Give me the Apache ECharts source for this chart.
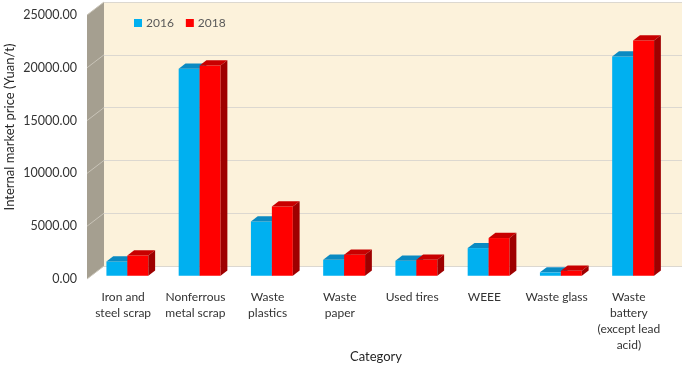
<!DOCTYPE html>
<html>
<head>
<meta charset="utf-8">
<script src="https://cdn.jsdelivr.net/npm/echarts@6/dist/echarts.min.js"></script>
<style>
  html, body { margin: 0; padding: 0; background: #fff; }
  #chart { width: 685px; height: 369px; }
</style>
</head>
<body>
<div id="chart"></div>
<script>
// data
const categories = ['Iron and steel scrap', 'Nonferrous metal scrap', 'Waste plastics', 'Waste paper',
  'Used tires', 'WEEE', 'Waste glass', 'Waste battery (except lead acid)'];
const categoryLabels = ['Iron and\nsteel scrap', 'Nonferrous\nmetal scrap', 'Waste\nplastics', 'Waste\npaper',
  'Used tires', 'WEEE', 'Waste glass', 'Waste\nbattery\n(except lead\nacid)'];
const years = ['2016', '2018'];
const price2016 = [1350, 19600, 5140, 1510, 1420, 2620, 320, 20770];
const price2018 = [1920, 19910, 6560, 1990, 1510, 3570, 470, 22280];
const yMax = 25000;
const yStep = 5000;

// fake 3d: the back wall sits up and to the right of the front plane
const DX = 17, DY = 13;
const FRONT = 0.25, DEPTH = 0.4;  // bar front face / depth as fraction of the wall depth
const BAR_W = 0.29;                // share of a category band per bar

const faces = [
  { front: '#00B0F0', top: '#0A8AC2', side: '#0078AA' },
  { front: '#FF0000', top: '#C80000', side: '#9E0000' }
];

function bar3d(idx) {
  return function (params, api) {
    const c = api.value(0), v = api.value(1);
    const base = api.coord([c, 0]);
    const top = api.coord([c, v]);
    const w = api.size([1, 0])[0] * BAR_W;
    const x0 = base[0] + (idx === 0 ? -w : 0) + DX * FRONT;
    const yb = base[1] - DY * FRONT;
    const yt = top[1] - DY * FRONT;
    const ddx = DX * DEPTH, ddy = DY * DEPTH;
    const f = faces[idx];
    return {
      type: 'group',
      children: [
        { type: 'rect', shape: { x: x0, y: yt, width: w, height: yb - yt }, style: { fill: f.front } },
        { type: 'polygon', shape: { points: [[x0, yt], [x0 + w, yt], [x0 + w + ddx, yt - ddy], [x0 + ddx, yt - ddy]] }, style: { fill: f.top } },
        { type: 'polygon', shape: { points: [[x0 + w, yt], [x0 + w + ddx, yt - ddy], [x0 + w + ddx, yb - ddy], [x0 + w, yb]] }, style: { fill: f.side } }
      ]
    };
  };
}

const chart = echarts.init(document.getElementById('chart'));
const font = 'Lato, "Open Sans", sans-serif';

const option = {
  animation: false,
  textStyle: { fontFamily: font },
  legend: {
    data: years,
    left: 134, top: 17, padding: 0,
    icon: 'rect', itemWidth: 8, itemHeight: 8, itemGap: 12,
    textStyle: { color: '#595959', fontSize: 12, fontFamily: font, padding: [0, 0, 0, -1] }
  },
  grid: [
    { left: 87, right: 20, top: 15, bottom: 90, outerBoundsMode: 'none' },
    { left: 87 + DX, right: 20 - DX, top: 15 - DY, bottom: 90 + DY, show: true,
      backgroundColor: '#FCF2DB', borderWidth: 0, outerBoundsMode: 'none' }
  ],
  xAxis: [
    {
      type: 'category', data: categories, gridIndex: 0,
      axisLine: { show: false }, axisTick: { show: false },
      axisLabel: {
        interval: 0, margin: 10, color: '#333333', fontSize: 12, lineHeight: 16, fontFamily: font,
        formatter: (v, i) => categoryLabels[i]
      },
      name: 'Category', nameLocation: 'middle', nameGap: 71, nameMoveOverlap: false,
      nameTextStyle: { color: '#262626', fontSize: 13, fontFamily: font }
    },
    { type: 'category', data: categories, gridIndex: 1, show: false }
  ],
  yAxis: [
    {
      type: 'value', gridIndex: 0, min: 0, max: yMax, interval: yStep,
      axisLine: { show: false }, axisTick: { show: false }, splitLine: { show: false },
      axisLabel: { margin: 10, color: '#333333', fontSize: 12.5, fontFamily: font, formatter: v => v.toFixed(2) },
      name: 'Internal market price (Yuan/t)', nameLocation: 'middle', nameGap: 71, nameRotate: 90,
      nameMoveOverlap: false,
      nameTextStyle: { color: '#262626', fontSize: 13, fontFamily: font, padding: [0, 0, 0, 40] }
    },
    {
      type: 'value', gridIndex: 1, min: 0, max: yMax, interval: yStep,
      axisLine: { show: false }, axisTick: { show: false }, axisLabel: { show: false },
      splitLine: { show: true, lineStyle: { color: '#DCD8D0', width: 1 } }
    }
  ],
  series: [
    {
      name: years[0], type: 'custom', xAxisIndex: 0, yAxisIndex: 0,
      itemStyle: { color: faces[0].front },
      renderItem: bar3d(0),
      data: price2016.map((v, i) => [i, v]),
      z: 5
    },
    {
      name: years[1], type: 'custom', xAxisIndex: 0, yAxisIndex: 0,
      itemStyle: { color: faces[1].front },
      renderItem: bar3d(1),
      data: price2018.map((v, i) => [i, v]),
      z: 5
    }
  ]
};
chart.setOption(option);

// left side wall, with the grid lines carried across it
const y0 = chart.convertToPixel({ yAxisIndex: 0 }, 0);
const yTop = chart.convertToPixel({ yAxisIndex: 0 }, yMax);
const xl = 87;
const wallLines = [];
for (let v = 0; v <= yMax; v += yStep) {
  const y = chart.convertToPixel({ yAxisIndex: 0 }, v);
  wallLines.push({
    type: 'line', shape: { x1: xl, y1: y, x2: xl + DX, y2: y - DY },
    style: { stroke: '#C9C4B8', lineWidth: 1 }, z: 1
  });
}
chart.setOption({
  graphic: [
    {
      type: 'polygon', z: 0,
      shape: { points: [[xl, yTop], [xl + DX, yTop - DY], [xl + DX, y0 - DY], [xl, y0]] },
      style: { fill: '#A59F90' }
    }
  ].concat(wallLines)
});
</script>
</body>
</html>
